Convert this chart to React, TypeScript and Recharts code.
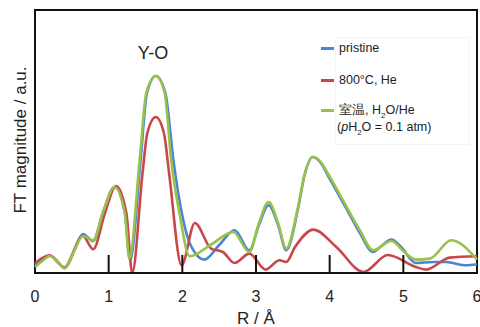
import React from 'react';
import { LineChart, Line, XAxis, YAxis, Legend, ReferenceArea } from 'recharts';

const xTicks = [0, 1, 2, 3, 4, 5, 6];

const pristine = [
  [0, 8], [0.1, 13], [0.2, 17.5], [0.3, 12], [0.4, 5], [0.52, 21], [0.65, 39], [0.79, 32],
  [0.92, 60], [1.08, 86], [1.22, 60], [1.29, 12.7], [1.43, 110], [1.52, 180], [1.64, 197],
  [1.77, 180], [1.88, 112], [1.96, 73], [2.1, 30], [2.3, 13.4], [2.5, 28], [2.71, 42.7],
  [2.91, 22.7], [3.04, 48], [3.17, 67.7], [3.3, 48], [3.41, 22.7], [3.57, 64], [3.66, 98],
  [3.77, 116], [3.88, 110], [3.98, 97], [4.23, 64], [4.41, 40], [4.59, 21], [4.7, 27],
  [4.84, 33.4], [4.97, 26], [5.17, 10], [5.4, 11], [5.58, 11], [5.85, 7.7], [6, 8.7],
].map(([r, v]) => ({ r, v }));

const heated = [
  [0, 10], [0.2, 17.7], [0.4, 5.5], [0.65, 37], [0.79, 23.7], [0.95, 60], [1.1, 87],
  [1.24, 60], [1.32, 0], [1.46, 100], [1.525, 140], [1.64, 156], [1.75, 140], [1.82, 100],
  [1.99, 7.7], [2.17, 50], [2.39, 24.4], [2.55, 21], [2.71, 10], [2.91, 19.4], [3.13, 3.4],
  [3.32, 12.7], [3.41, 11], [3.53, 26], [3.78, 43.4], [4.09, 26], [4.46, 1], [4.79, 18],
  [5.17, 6], [5.31, 3.4], [5.63, 15.4], [6, 16.7],
].map(([r, v]) => ({ r, v }));

const humid = [
  [0, 6], [0.1, 12], [0.2, 17], [0.3, 12], [0.4, 4.5], [0.52, 20], [0.65, 37], [0.79, 32.7],
  [0.92, 60], [1.08, 86], [1.22, 60], [1.28, 14.7], [1.42, 112], [1.51, 180], [1.64, 197],
  [1.76, 180], [1.85, 112], [1.96, 60], [2.1, 16.7], [2.4, 29], [2.69, 41], [2.91, 21],
  [3.04, 50], [3.17, 71], [3.3, 50], [3.41, 24.4], [3.57, 66], [3.66, 99], [3.77, 116],
  [3.88, 111], [3.98, 99], [4.23, 66], [4.41, 42.7], [4.59, 22.7], [4.84, 32], [5.0, 22],
  [5.17, 13.4], [5.36, 14.4], [5.65, 32.7], [6, 13.4],
].map(([r, v]) => ({ r, v }));

const W = 472;
const H = 319;
const FONT = '"Liberation Sans", Arial, Helvetica, sans-serif';
const BLUE = '#4a86cf';
const RED = '#c9474b';
const GREEN = '#98c24a';

const BottomTick = (props: any) => {
  const { x, y, payload } = props;
  const v = payload.value;
  return (
    <g>
      {v > 0 && v < 6 && (
        <line x1={x} x2={x} y1={y} y2={y - 18} stroke="#111" strokeWidth={2} />
      )}
      <text x={x} y={y + 29} textAnchor="middle" fontSize={16} fill="#222" fontFamily={FONT}>
        {String(v)}
      </text>
    </g>
  );
};

const LegendContent = () => {
  const item = (top: number, color: string) => (
    <div style={{ position: 'absolute', left: 0, top: top - 1, width: 13, height: 2.5, background: color }} />
  );
  const text: React.CSSProperties = { position: 'absolute', whiteSpace: 'nowrap', lineHeight: '14px' };
  return (
    <div style={{ position: 'relative', width: 150, height: 110, fontFamily: FONT, fontSize: 12.5, color: '#222' }}>
      <div style={{ position: 'absolute', left: 14, top: 0, width: 132, height: 106, border: '1px solid #f4f4f4' }} />
      {item(11, BLUE)}
      <div style={{ ...text, left: 18, top: 4 }}>pristine</div>
      {item(43, RED)}
      <div style={{ ...text, left: 18, top: 36 }}>800°C, He</div>
      {item(73, GREEN)}
      <div style={{ ...text, left: 18, top: 66 }}>
        室温, H<sub style={{ fontSize: 8, verticalAlign: 'sub', lineHeight: 0 }}>2</sub>O/He
      </div>
      <div style={{ ...text, left: 16, top: 83 }}>
        (<i>p</i>H<sub style={{ fontSize: 8, verticalAlign: 'sub', lineHeight: 0 }}>2</sub>O = 0.1 atm)
      </div>
    </div>
  );
};

export default function App() {
  return (
    <div style={{ position: 'absolute', left: 8, top: 8, width: W, height: H }}>
      <LineChart width={W} height={H} margin={{ top: 2, right: 3, left: 27, bottom: 0 }} style={{ overflow: 'visible' }}>
        <XAxis
          dataKey="r"
          type="number"
          domain={[0, 6]}
          ticks={xTicks}
          interval={0}
          tickLine={false}
          tickSize={0}
          tickMargin={0}
          height={54}
          axisLine={{ stroke: '#111', strokeWidth: 2 }}
          tick={<BottomTick />}
          allowDuplicatedCategory={false}
          label={{ value: 'R / Å', position: 'insideBottom', offset: 3, fontSize: 17, fill: '#222', fontFamily: FONT }}
        />
        <YAxis type="number" domain={[0, 263]} hide />
        <ReferenceArea
          x1={0}
          x2={6}
          y1={0}
          y2={263}
          stroke="#111"
          strokeWidth={2}
          fill="none"
          fillOpacity={0}
          ifOverflow="visible"
        />
        <Legend
          layout="vertical"
          align="center"
          verticalAlign="middle"
          content={<LegendContent />}
          wrapperStyle={{ left: 313, top: 29, width: 150, height: 110 }}
        />
        <Line data={pristine} dataKey="v" type="monotone" stroke={BLUE} strokeWidth={2.6} dot={false} isAnimationActive={false} />
        <Line data={heated} dataKey="v" type="monotone" stroke={RED} strokeWidth={2.6} dot={false} isAnimationActive={false} />
        <Line data={humid} dataKey="v" type="monotone" stroke={GREEN} strokeWidth={2.6} dot={false} isAnimationActive={false} />
      </LineChart>
      <div style={{ position: 'absolute', left: 145 - 40, top: 35, width: 80, textAlign: 'center', fontFamily: FONT, fontSize: 18, color: '#222', lineHeight: '20px' }}>
        Y-O
      </div>
      <div style={{ position: 'absolute', left: 13, top: 132, width: 0, height: 0 }}>
        <div style={{ position: 'absolute', transform: 'translate(-50%, -50%) rotate(-90deg)', whiteSpace: 'nowrap', fontFamily: FONT, fontSize: 17, color: '#222' }}>
          FT magnitude / a.u.
        </div>
      </div>
    </div>
  );
}
